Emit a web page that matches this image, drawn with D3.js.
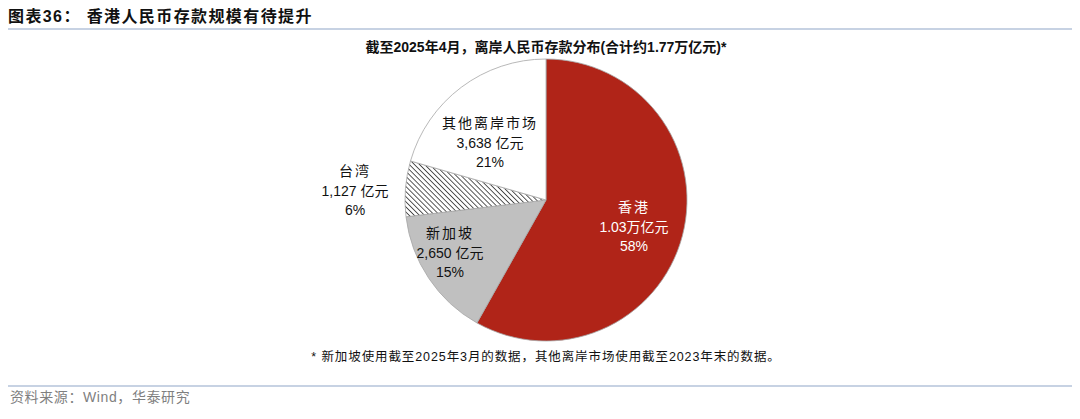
<!DOCTYPE html>
<html><head><meta charset="utf-8">
<script src="https://cdn.jsdelivr.net/npm/d3@7"></script>
<style>
body{margin:0;background:#fff;}
text{font-family:"Liberation Sans",Arial,"Noto Sans CJK SC",sans-serif;}
</style></head>
<body><svg id="c" width="1080" height="419"></svg>
<script>
const categories = ["香港","新加坡","台湾","其他离岸市场"];
const values = [10300, 2650, 1127, 3638];
const amountLabels = ["1.03万亿元","2,650 亿元","1,127 亿元","3,638 亿元"];
const pctLabels = ["58%","15%","6%","21%"];

const svg = d3.select("#c");
const cx = 546, cy = 200, R = 141;

// header
svg.append("text").attr("x",8).attr("y",22).attr("font-size",16).attr("font-weight","bold").attr("fill","#111")
  .attr("letter-spacing",1.4).text("图表36：  香港人民币存款规模有待提升");
svg.append("line").attr("x1",8).attr("x2",1072).attr("y1",29).attr("y2",29).attr("stroke","#8fa6c8").attr("stroke-width",1.2);
svg.append("line").attr("x1",8).attr("x2",1072).attr("y1",386).attr("y2",386).attr("stroke","#8fa6c8").attr("stroke-width",1.2);
svg.append("text").attr("x",10).attr("y",402).attr("font-size",14).attr("letter-spacing",0.6).attr("fill","#7f7f7f").text("资料来源：Wind，华泰研究");

svg.append("text").attr("x",cx).attr("y",52).attr("text-anchor","middle").attr("font-size",14).attr("font-weight","bold").attr("fill","#111")
  .text("截至2025年4月，离岸人民币存款分布(合计约1.77万亿元)*");
svg.append("text").attr("x",cx).attr("y",361).attr("text-anchor","middle").attr("font-size",12.5).attr("letter-spacing",0.9).attr("fill","#111")
  .text("* 新加坡使用截至2025年3月的数据，其他离岸市场使用截至2023年末的数据。");

const defs = svg.append("defs");
const pat = defs.append("pattern").attr("id","hatch").attr("patternUnits","userSpaceOnUse")
  .attr("width",3.6).attr("height",3.6).attr("patternTransform","rotate(-45)");
pat.append("rect").attr("width",3.6).attr("height",3.6).attr("fill","#fff");
pat.append("line").attr("x1",0).attr("y1",0).attr("x2",0).attr("y2",3.6).attr("stroke","#222").attr("stroke-width",1.5);

const fills = ["#b02418","#c0c0c0","url(#hatch)","#ffffff"];
const pie = d3.pie().sort(null).value(d=>d)(values);
const arc = d3.arc().innerRadius(0).outerRadius(R);
const g = svg.append("g").attr("transform",`translate(${cx},${cy})`);
g.selectAll("path").data(pie).join("path").attr("d",arc)
  .attr("fill",(d,i)=>fills[i]).attr("stroke","#a6a6a6").attr("stroke-width",0.8);

// labels
const labelPos = [[634,212],[450,238],[355,176],[490,128]];
const colors = ["#fff","#111","#111","#111"];
categories.forEach((c,i)=>{
  const [x,y] = labelPos[i];
  const t = svg.append("text").attr("text-anchor","middle").attr("font-size",14).attr("fill",colors[i]);
  t.append("tspan").attr("x",x).attr("y",y).attr("letter-spacing",2).text(c);
  t.append("tspan").attr("x",x).attr("y",y+19.5).text(amountLabels[i]);
  t.append("tspan").attr("x",x).attr("y",y+38.5).text(pctLabels[i]);
});
</script></body></html>
